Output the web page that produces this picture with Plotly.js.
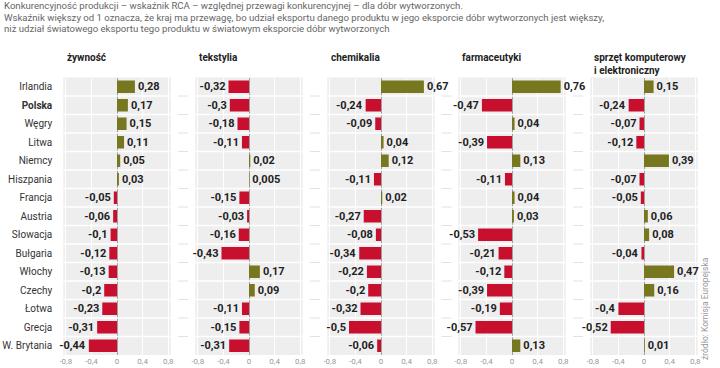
<!DOCTYPE html>
<html><head><meta charset="utf-8">
<script src="https://cdn.plot.ly/plotly-3.0.1.min.js"></script>
<style>body{margin:0;background:#fff}#c{width:720px;height:368px}</style>
</head><body><div id="c"></div>
<script>
const countries = ["Irlandia","Polska","Węgry","Litwa","Niemcy","Hiszpania","Francja","Austria","Słowacja","Bułgaria","Włochy","Czechy","Łotwa","Grecja","W. Brytania"];
const panelTitles = ["żywność","tekstylia","chemikalia","farmaceutyki","sprzęt komputerowy<br>i elektroniczny"];
const zywnosc     = [0.28,0.17,0.15,0.11,0.05,0.03,-0.05,-0.06,-0.1,-0.12,-0.13,-0.2,-0.23,-0.31,-0.44];
const tekstylia   = [-0.32,-0.3,-0.18,-0.11,0.02,0.005,-0.15,-0.03,-0.16,-0.43,0.17,0.09,-0.11,-0.15,-0.31];
const chemikalia  = [0.67,-0.24,-0.09,0.04,0.12,-0.11,0.02,-0.27,-0.08,-0.34,-0.22,-0.2,-0.32,-0.5,-0.06];
const farmaceutyki= [0.76,-0.47,0.04,-0.39,0.13,-0.11,0.04,0.03,-0.53,-0.21,-0.12,-0.39,-0.19,-0.57,0.13];
const sprzet      = [0.15,-0.24,-0.07,-0.12,0.39,-0.07,-0.05,0.06,0.08,-0.04,0.47,0.16,-0.4,-0.52,0.01];
const tickVals = [-0.8,-0.4,0,0.4,0.8];
const tickText = ["-0,8","-0,4","0","0,4","0,8"];
const headerLines = [
 "Konkurencyjność produkcji – wskaźnik RCA – względnej przewagi konkurencyjnej – dla dóbr wytworzonych.",
 "Wskaźnik większy od 1 oznacza, że kraj ma przewagę, bo udział eksportu danego produktu w jego eksporcie dóbr wytworzonych jest większy,",
 "niż udział światowego eksportu tego produktu w światowym eksporcie dóbr wytworzonych"
];
const source = "źródło: Komisja Europejska";

const series = [zywnosc, tekstylia, chemikalia, farmaceutyki, sprzet];
const W = 720, H = 368;
const zeros = [117, 249, 381, 512, 644];
const pxPerUnit = 64, R = 0.84, half = R*pxPerUnit;
const yTop = 77.5, yBot = 355;
const POS = "#77771f", NEG = "#c8102e";

const traces = [];
const layout = {
  width: W, height: H, margin:{l:0,r:0,t:0,b:0},
  paper_bgcolor:"#fff", plot_bgcolor:"#eeeeee", showlegend:false,
  font:{family:"Roboto, 'Open Sans', sans-serif", color:"#333"},
  annotations:[], shapes:[], bargap:0.33
};
const yLabels = countries.map(c => c === "Polska" ? "<b>Polska</b>" : c);
layout.yaxis = {
  type:"category", categoryorder:"array", categoryarray:countries,
  range:[14.5,-0.5], domain:[1-yBot/H, 1-yTop/H], anchor:"x",
  tickmode:"array", tickvals:countries, ticktext:yLabels,
  ticks:"outside", ticklen:8, tickcolor:"rgba(0,0,0,0)",
  tickfont:{size:10, color:"#333", family:"Roboto, sans-serif"},
  showgrid:false, zeroline:false, showline:false, fixedrange:true
};
series.forEach((vals, k) => {
  const ax = k===0 ? "x" : "x"+(k+1);
  const axKey = k===0 ? "xaxis" : "xaxis"+(k+1);
  layout[axKey] = {
    domain:[(zeros[k]-half)/W, (zeros[k]+half)/W], range:[-R,R], anchor:"y",
    tickmode:"array", tickvals:tickVals, ticktext:tickText,
    tickfont:{size:8, color:"#999"}, ticks:"", showgrid:true, gridcolor:"#ffffff", gridwidth:1,
    zeroline:true, zerolinecolor:"#a0a0a0", zerolinewidth:1, showline:false, fixedrange:true
  };
  traces.push({
    type:"bar", orientation:"h", x:vals, y:countries, xaxis:ax, yaxis:"y",
    marker:{color: vals.map(v => v>=0 ? POS : NEG), line:{width:0}},
    text: vals.map(v => String(v).replace(".", ",")),
    textposition:"outside", cliponaxis:false, constraintext:"none",
    textfont:{family:"Roboto, sans-serif", size:11, color:"#222", weight:700},
    hoverinfo:"skip"
  });
  layout.annotations.push({
    xref:"paper", yref:"paper", x:(zeros[k]-0.8*pxPerUnit-1)/W, y:1-50/H,
    xanchor:"left", yanchor:"top", align:"left", showarrow:false,
    text:"<b>"+panelTitles[k]+"</b>", font:{size:10, color:"#222"}
  });
  for (let i=0;i<14;i++){
    layout.shapes.push({type:"line", xref:"paper", yref:"y",
      x0:(zeros[k]-half)/W, x1:(zeros[k]+half)/W, y0:i+0.5, y1:i+0.5,
      line:{color:"#ffffff", width:1.5}, layer:"above"});
    if (k<4){
      const gx = (zeros[k]+half + zeros[k+1]-half)/2;
      layout.shapes.push({type:"line", xref:"paper", yref:"y",
        x0:(gx-5)/W, x1:(gx+5)/W, y0:i+0.5, y1:i+0.5,
        line:{color:"#e2e2e2", width:1}, layer:"above"});
    }
  }
});
headerLines.forEach((t,i) => {
  layout.annotations.push({xref:"paper", yref:"paper", x:2/W, y:1-(6+11.2*i)/H,
    xanchor:"left", yanchor:"middle", showarrow:false, text:t,
    font:{size:9.6, color:"#666", family:"Roboto, sans-serif"}});
});
layout.annotations.push({xref:"paper", yref:"paper", x:705/W, y:1-309/H,
  xanchor:"center", yanchor:"middle", showarrow:false, textangle:-90, text:source,
  font:{size:8.5, color:"#999", family:"Roboto, sans-serif"}});

Plotly.newPlot("c", traces, layout, {displayModeBar:false, staticPlot:true});
</script></body></html>
